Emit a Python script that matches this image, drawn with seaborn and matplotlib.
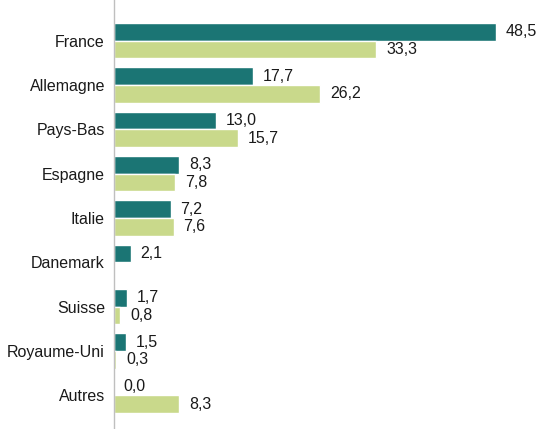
import matplotlib
matplotlib.use("Agg")
import matplotlib.pyplot as plt
import seaborn as sns
import pandas as pd
import numpy as np

# Country categories and the two series of values
pays = ["France", "Allemagne", "Pays-Bas", "Espagne", "Italie",
        "Danemark", "Suisse", "Royaume-Uni", "Autres"]
serie_1 = [48.5, 17.7, 13.0, 8.3, 7.2, 2.1, 1.7, 1.5, 0.0]
serie_2 = [33.3, 26.2, 15.7, 7.8, 7.6, np.nan, 0.8, 0.3, 8.3]
series = ["serie_1", "serie_2"]

df = pd.DataFrame({
    "pays": pays * 2,
    "valeur": serie_1 + serie_2,
    "serie": [series[0]] * len(pays) + [series[1]] * len(pays),
}).dropna()

sns.set_style("white")
plt.rcParams["font.family"] = ["Liberation Sans", "DejaVu Sans"]

fig = plt.figure(figsize=(5.4, 4.29), dpi=100)
ax = fig.add_axes([114 / 540, 0.0, 426 / 540, 1.0])

sns.barplot(data=df, y="pays", x="valeur", hue="serie", order=pays,
            hue_order=series, orient="h", width=0.8, saturation=1,
            palette=["#1b7574", "#c9d98b"], edgecolor="white",
            linewidth=1.0, legend=False, ax=ax)

fmt = lambda v: f"{v:.1f}".replace(".", ",")
for cont in ax.containers:
    ax.bar_label(cont, fmt=fmt, padding=7, fontsize=11.5, color="#1a1a1a")

ax.set_xlim(0, 426 / 7.88)
ax.set_ylim(8.76, -0.92)
ax.set_xlabel("")
ax.set_ylabel("")
ax.set_xticks([])
ax.tick_params(axis="y", length=0, pad=6.5, labelsize=11.5, labelcolor="#1a1a1a")
for side in ["top", "right", "bottom"]:
    ax.spines[side].set_visible(False)
ax.spines["left"].set_color("#bfbfbf")
ax.spines["left"].set_linewidth(1.0)

fig.savefig("out.png", dpi=100)
